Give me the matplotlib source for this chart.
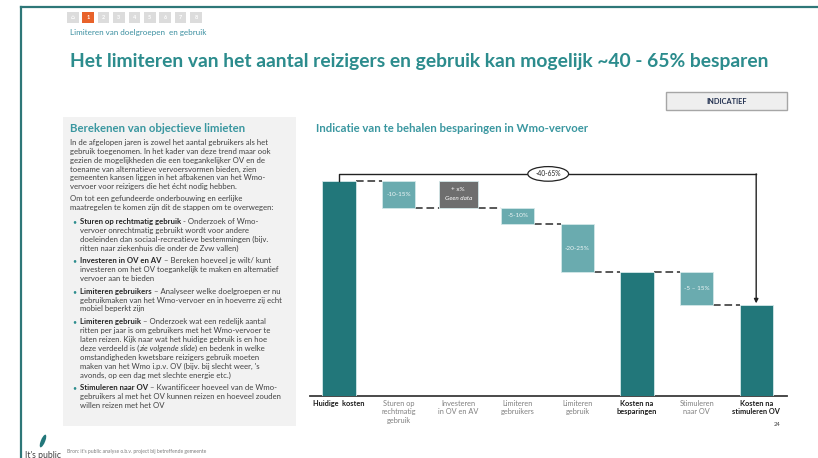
import matplotlib
matplotlib.use("Agg")
import matplotlib.pyplot as plt
from matplotlib.patches import Rectangle, Ellipse
from matplotlib.font_manager import FontProperties

# ---- data ----
categories = ["Huidige  kosten", "Sturen op\nrechtmatig\ngebruik", "Investeren\nin OV en AV",
              "Limiteren\ngebruikers", "Limiteren\ngebruik", "Kosten na\nbesparingen",
              "Stimuleren\nnaar OV", "Kosten na\nstimuleren OV"]
kinds = ["total", "delta", "unknown", "delta", "delta", "total", "delta", "total"]
changes = [100, -12.5, 12.5, -7.5, -22.5, None, -15, None]
bar_labels = ["", "-10-15%", "+ x%", "-5-10%", "-20-25%", "", "-5 – 15%", ""]
total_saving = "-40-65%"

title = "Het limiteren van het aantal reizigers en gebruik kan mogelijk ~40 - 65% besparen"
breadcrumb = "Limiteren van doelgroepen  en gebruik"
chart_title = "Indicatie van te behalen besparingen in Wmo-vervoer"
panel_title = "Berekenen van objectieve limieten"
intro_lines = [
    "In de afgelopen jaren is zowel het aantal gebruikers als het",
    "gebruik toegenomen. In het kader van deze trend maar ook",
    "gezien de mogelijkheden die een toegankelijker OV en de",
    "toename van alternatieve vervoersvormen bieden, zien",
    "gemeenten kansen liggen in het afbakenen van het Wmo-",
    "vervoer voor reizigers die het écht nodig hebben.",
]
steps_lines = [
    "Om tot een gefundeerde onderbouwing en eerlijke",
    "maatregelen te komen zijn dit de stappen om te overwegen:",
]
bullets = [
    ("Sturen op rechtmatig gebruik", [" - Onderzoek of Wmo-",
        "vervoer onrechtmatig gebruikt wordt voor andere",
        "doeleinden dan sociaal-recreatieve bestemmingen (bijv.",
        "ritten naar ziekenhuis die onder de Zvw vallen)"]),
    ("Investeren in OV en AV", [" – Bereken hoeveel je wilt/ kunt",
        "investeren om het OV toegankelijk te maken en alternatief",
        "vervoer aan te bieden"]),
    ("Limiteren gebruikers", [" – Analyseer welke doelgroepen er nu",
        "gebruikmaken van het Wmo-vervoer en in hoeverre zij echt",
        "mobiel beperkt zijn"]),
    ("Limiteren gebruik", [" – Onderzoek wat een redelijk aantal",
        "ritten per jaar is om gebruikers met het Wmo-vervoer te",
        "laten reizen. Kijk naar wat het huidige gebruik is en hoe",
        "deze verdeeld is (*zie volgende slide*) en bedenk in welke",
        "omstandigheden kwetsbare reizigers gebruik moeten",
        "maken van het Wmo i.p.v. OV (bijv. bij slecht weer, 's",
        "avonds, op een dag met slechte energie etc.)"]),
    ("Stimuleren naar OV", [" – Kwantificeer hoeveel van de Wmo-",
        "gebruikers al met het OV kunnen reizen en hoeveel zouden",
        "willen reizen met het OV"]),
]
nav_items = ["⌂", "1", "2", "3", "4", "5", "6", "7", "8"]

DARK = "#22777a"
LIGHT = "#6aabaf"
GREY = "#6e6e6e"
TEAL_TXT = "#2c8c8d"

W, H = 818, 458
plt.rcParams['font.family'] = ['Lato', 'DejaVu Sans']
fig = plt.figure(figsize=(W / 100, H / 100), dpi=100)
r = fig.canvas.get_renderer()


def fx(px):
    return px / W


def fy(py):
    return 1 - py / H


def seg_width(s, fp):
    w1 = r.get_text_width_height_descent("|" + s + "|", fp, ismath=False)[0]
    w0 = r.get_text_width_height_descent("||", fp, ismath=False)[0]
    return w1 - w0


def rich_line(x, y, segs, size):
    # segs: list of (text, weight, style, color)
    for s, weight, style, color in segs:
        fp = FontProperties(family=['Lato', 'DejaVu Sans'], size=size, weight=weight, style=style)
        lead = len(s) - len(s.lstrip())
        if lead:
            x += seg_width(s[:lead], fp)
        fig.text(fx(x), fy(y), s.strip(), fontproperties=fp, color=color, va='center', ha='left')
        x += seg_width(s.lstrip(), fp)


def parse_italic(line, color):
    parts = line.split("*")
    return [(p, 'normal', 'italic' if i % 2 else 'normal', color) for i, p in enumerate(parts) if p]


# ---- slide chrome ----
fig.add_artist(plt.Line2D([fx(21), fx(21)], [fy(7), 0], color="#2e7778", lw=1.6))
fig.add_artist(plt.Line2D([fx(21), 1], [fy(7), fy(7)], color="#2e7778", lw=1.6))

for i, lab in enumerate(nav_items):
    x0 = 67 + i * 15.4
    fc = "#e8622a" if lab == "1" else "#dcdcdc"
    fig.add_artist(Rectangle((fx(x0), fy(22.5)), 11.5 / W, 10 / H, fc=fc, ec="none"))
    fig.text(fx(x0 + 5.75), fy(17.5), lab, color="white", fontsize=4, ha='center', va='center',
             fontweight='bold', family=['DejaVu Sans'] if lab == "⌂" else ['Lato'])

fig.text(fx(70), fy(33), breadcrumb, color="#3b8fa0", fontsize=5.8, va='center')
fig.text(fx(70), fy(62), title, color=TEAL_TXT, fontsize=13.9, fontweight='bold', va='center')

fig.add_artist(Rectangle((fx(666), fy(109.5)), 121 / W, 17 / H, fc="#efefef", ec="#a6a6a6", lw=1))
fig.text(fx(726.5), fy(101), "INDICATIEF", color="#1f2d4d", fontsize=5.3, fontweight='bold',
         ha='center', va='center')

# left panel
fig.add_artist(Rectangle((fx(63), fy(426)), (296 - 63) / W, (426 - 117) / H, fc="#f2f2f2", ec="none"))
fig.text(fx(70), fy(128), panel_title, color="#3a97a0", fontsize=8.2, fontweight='bold', va='center')

BODY = "#404040"
BOLD = "#262626"
size = 5.55
y = 142.3
for line in intro_lines:
    rich_line(70, y, [(line, 'normal', 'normal', BODY)], size)
    y += 8.9
y += 3
for line in steps_lines:
    rich_line(70, y, [(line, 'normal', 'normal', BODY)], size)
    y += 8.9
y += 4.8
for head, rest in bullets:
    fig.text(fx(72), fy(y), "•", color=TEAL_TXT, fontsize=5, va='center')
    rich_line(80, y, [(head, 'bold', 'normal', BOLD)] + parse_italic(rest[0], BODY), size)
    y += 8.9
    for line in rest[1:]:
        rich_line(80, y, parse_italic(line, BODY), size)
        y += 8.9
    y += 3.8

# footer
fig.add_artist(Ellipse((fx(43), fy(441)), 4.5 / W, 13 / H, angle=-12, fc=DARK, ec="none"))
fig.text(fx(25), fy(455), "It's public", color="#404040", fontsize=6.2, va='center')
fig.text(fx(67), fy(452), "Bron: it's public analyse o.b.v. project bij betreffende gemeente",
         color="#7a7a7a", fontsize=3.6, va='center')
fig.text(fx(777), fy(425), "24", color="#404040", fontsize=4.2, ha='center', va='center')

fig.text(fx(316), fy(128), chart_title, color="#3a97a0", fontsize=8.2, fontweight='bold', va='center')

# ---- waterfall chart ----
ax = fig.add_axes([fx(310), fy(396), (787 - 310) / W, (396 - 165) / H])
bottoms, tops, levels = [], [], []
running = 0
for k, c in zip(kinds, changes):
    if k == "total":
        if c is not None:
            running = c
        bottoms.append(0)
        tops.append(running)
    elif k == "delta":
        bottoms.append(running + c)
        tops.append(running)
        running += c
    else:
        bottoms.append(running)
        tops.append(running + c)
    levels.append(running)

xs = list(range(len(categories)))
widths = [0.66 if k == "unknown" else 0.56 for k in kinds]
colors = [DARK if k == "total" else (GREY if k == "unknown" else LIGHT) for k in kinds]
heights = [t - b for t, b in zip(tops, bottoms)]
ax.bar(xs, heights, bottom=bottoms, width=widths, color=colors, edgecolor="#d3e8e9", linewidth=0.6, zorder=3)

for i in range(len(xs) - 1):
    x0 = xs[i] + widths[i] / 2
    x1 = xs[i + 1] - widths[i + 1] / 2
    ax.plot([x0, x1], [levels[i], levels[i]], color="#2b2b2b", lw=1.1, ls=(0, (5, 2.5)), zorder=2)

for i, lab in enumerate(bar_labels):
    if not lab:
        continue
    mid = (bottoms[i] + tops[i]) / 2
    if kinds[i] == "unknown":
        ax.text(xs[i], mid + 2.1, lab, ha='center', va='center', color="white", fontsize=4.6)
        ax.text(xs[i], mid - 2.1, "Geen data", ha='center', va='center', color="white",
                fontsize=4.6, fontstyle='italic')
    else:
        ax.text(xs[i], mid, lab, ha='center', va='center', color="#eef6f6", fontsize=4.6)

# bracket with total saving
yb = 103.3
ax.plot([0, 0, xs[-1]], [tops[0], yb, yb], color="#222222", lw=1, clip_on=False, zorder=4)
ax.annotate("", xy=(xs[-1], tops[-1] + 0.6), xytext=(xs[-1], yb),
            arrowprops=dict(arrowstyle='-|>', color="#222222", lw=1, shrinkA=0, shrinkB=0,
                            mutation_scale=6), zorder=4)
ax.text(3.51, yb, total_saving, ha='center', va='center', fontsize=4.8, color="#222222", zorder=5,
        bbox=dict(boxstyle='ellipse,pad=0.25', fc='white', ec='#222222', lw=0.9))

ax.set_xlim(-0.487, 7.517)
ax.set_ylim(0, (396 - 165) / 2.15)
ax.set_xticks(xs)
ax.set_xticklabels(categories, fontsize=5.3)
for lab, k in zip(ax.get_xticklabels(), kinds):
    if k == "total":
        lab.set_fontweight('bold')
        lab.set_color("#1a1a1a")
    else:
        lab.set_color("#808080")
ax.tick_params(axis='x', length=0, pad=3)
ax.set_yticks([])
for side in ["top", "right", "left"]:
    ax.spines[side].set_visible(False)
ax.spines["bottom"].set_color("#3a3a3a")
ax.spines["bottom"].set_linewidth(1.3)
ax.patch.set_alpha(0)

fig.savefig("out.png", dpi=100)
